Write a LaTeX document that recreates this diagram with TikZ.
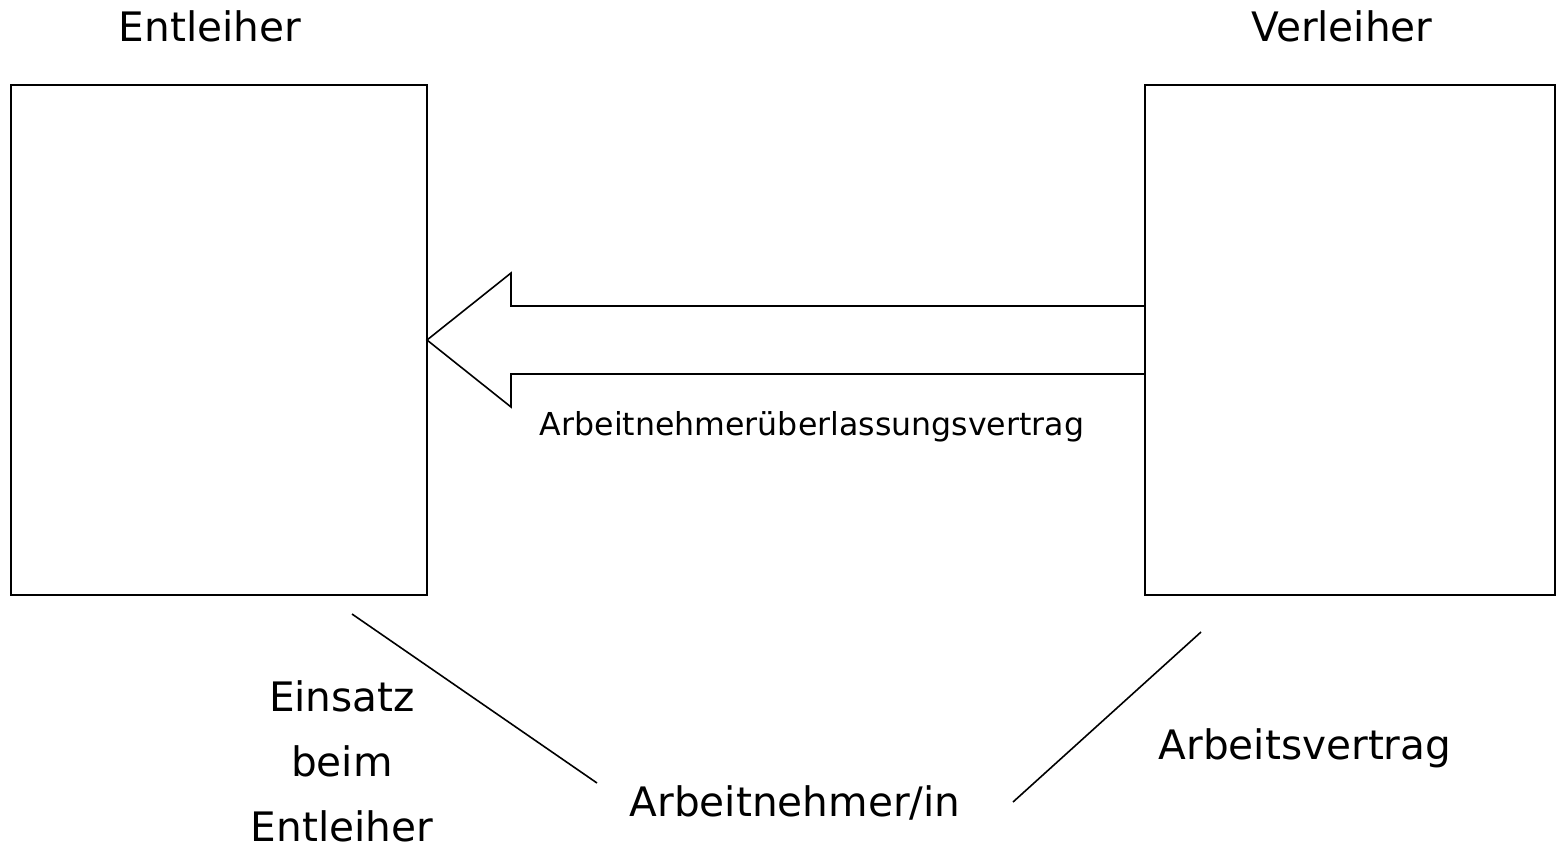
\documentclass[tikz,border=0pt]{standalone}
\usepackage{fontspec}
\setmainfont{DejaVu Sans}
\usetikzlibrary{calc}

\begin{document}
\begin{tikzpicture}[x=0.5pt,y=-0.5pt,
	box/.style={draw,line width=0.8pt},
	bigtext/.style={font=\fontsize{20.3pt}{32.5pt}\selectfont,inner sep=0pt},
	smalltext/.style={font=\fontsize{15.8pt}{19pt}\selectfont,inner sep=0pt},
	link/.style={line width=0.8pt}]
	\useasboundingbox (0,0) rectangle (1556,848);
	\draw[box] (11,85) rectangle (427,595);
	\draw[box] (1145,85) rectangle (1555,595);
	\coordinate (entleiherE) at (427,340);
	\coordinate (verleiherW) at (1145,340);
	\node[bigtext,anchor=base] (entleiherTitle) at (210,41) {Entleiher};
	\node[bigtext,anchor=base] (verleiherTitle) at (1342,41) {Verleiher};
	% Blockpfeil vom Verleiher zum Entleiher
	\draw[link] ($(verleiherW)+(0,-34)$) -- (511,306) -- (511,273) -- (entleiherE) -- (511,407) -- (511,374) -- ($(verleiherW)+(0,34)$);
	\node[smalltext,anchor=base] (vertrag) at (812,435) {Arbeitnehmerüberlassungsvertrag};
	\node[bigtext,anchor=base] (arbeitnehmer) at (795,816) {Arbeitnehmer/in};
	\node[bigtext,align=center] (einsatz) at (342,761) {Einsatz\\beim\\Entleiher};
	\node[bigtext,anchor=base] (arbeitsvertrag) at (1305,759) {Arbeitsvertrag};
	\coordinate (linksOben) at (352,614);
	\coordinate (linksUnten) at (597,783);
	\coordinate (rechtsOben) at (1201,632);
	\coordinate (rechtsUnten) at (1013,802);
	\draw[link] (linksOben) -- (linksUnten);
	\draw[link] (rechtsOben) -- (rechtsUnten);
\end{tikzpicture}
\end{document}
